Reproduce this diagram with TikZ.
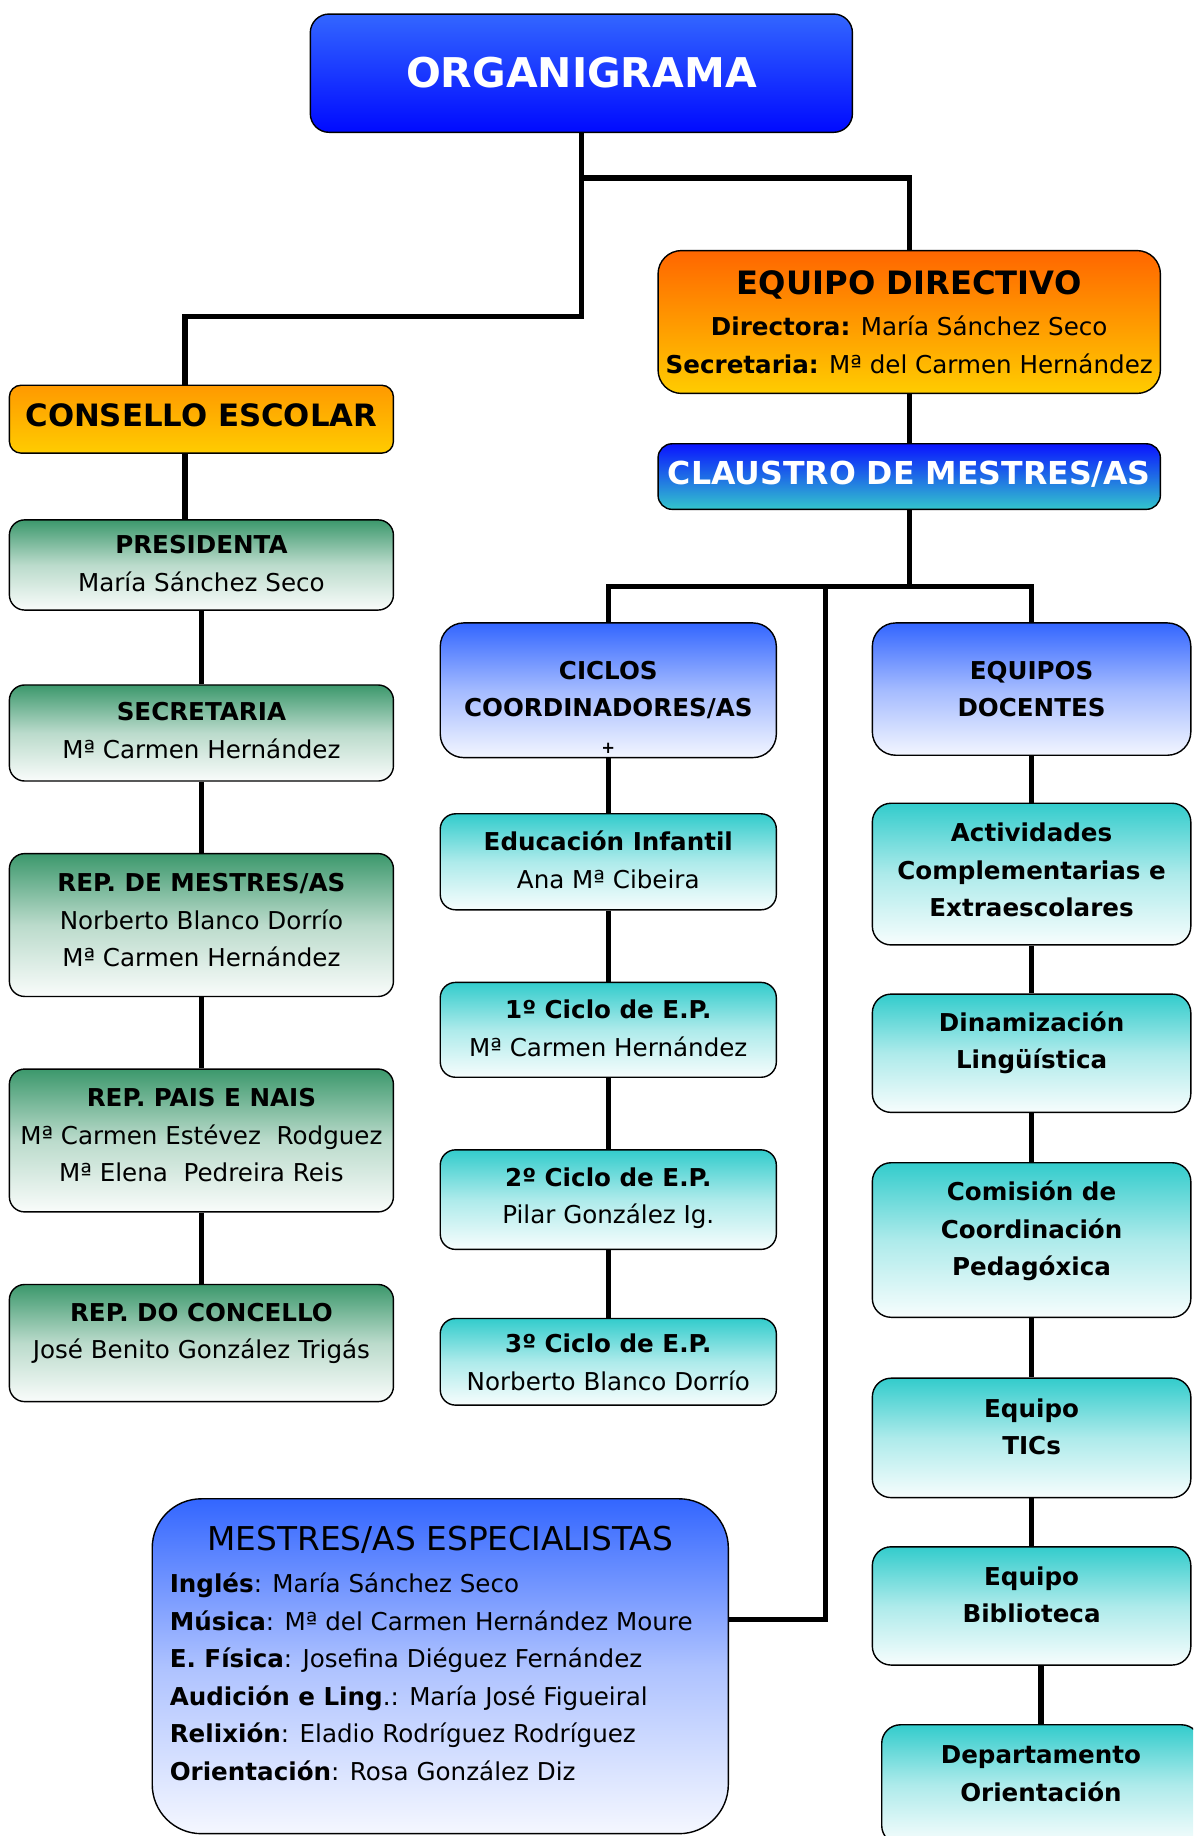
\documentclass[tikz,border=0pt]{standalone}
\usepackage{fontspec}
\setmainfont{DejaVu Sans}
\pgfdeclarelayer{back}
\pgfdeclarelayer{bg}
\pgfsetlayers{back,bg,main}
\newcommand\boxlines[2]{\raisebox{#1}[\height][\depth]{\begin{tabular}{@{}c@{}}#2\end{tabular}}}
\definecolor{bluetop}{RGB}{51,102,255}
\definecolor{bluebot}{RGB}{0,10,255}
\definecolor{orgtop}{RGB}{255,102,0}
\definecolor{yel}{RGB}{255,204,0}
\definecolor{orange2}{RGB}{255,153,0}
\definecolor{clatop}{RGB}{10,20,255}
\definecolor{clabot}{RGB}{51,198,204}
\definecolor{grn}{RGB}{60,152,108}
\definecolor{teal2}{RGB}{51,204,204}
\tikzset{
  box/.style={draw=black, line width=1.2pt, inner sep=0pt, font=\fontsize{21}{32}\selectfont},
  wh/.style 2 args={minimum width=#1pt, minimum height=#2pt},
  grnbox/.style={box, rounded corners=13pt, top color=grn, bottom color=grn!3!white, middle color=grn!35!white},
  tealbox/.style={box, rounded corners=16pt, top color=teal2, bottom color=teal2!4!white, middle color=teal2!40!white, font=\fontsize{21}{32}\selectfont\bfseries},
  lbluebox/.style={box, rounded corners=20pt, top color=bluetop, bottom color=bluetop!6!white, middle color=bluetop!45!white, font=\fontsize{21}{32}\selectfont\bfseries},
  conn/.style={line width=4.5pt},
}
\begin{document}
\begin{tikzpicture}[x=1pt,y=-1pt]
\clip (0,0) rectangle (1019,1568);
\begin{pgfonlayer}{back}
\fill[white] (0,0) rectangle (1019,1568);
\end{pgfonlayer}

% top
\node[box, wh={463}{101}, rounded corners=16pt, top color=bluetop, bottom color=bluebot, text=white, font=\fontsize{35}{42}\selectfont\bfseries] (org) at (496.5,62.5) {\boxlines{-4pt}{ORGANIGRAMA}};
\node[box, wh={429}{122}, rounded corners=20pt, top color=orgtop, bottom color=yel] (ed) at (776.5,275) {\boxlines{-4pt}{{\fontsize{27.5}{32}\selectfont\bfseries EQUIPO DIRECTIVO}\\[3pt]\textbf{Directora:} María Sánchez Seco\\\textbf{Secretaria:} Mª del Carmen Hernández}};
\node[box, wh={429}{56}, rounded corners=12pt, top color=clatop, bottom color=clabot, text=white, font=\fontsize{27}{32}\selectfont\bfseries] (cla) at (776.5,407) {\boxlines{0pt}{CLAUSTRO DE MESTRES/AS}};
\node[box, wh={328}{58}, rounded corners=10pt, top color=orange2, bottom color=yel, font=\fontsize{26.3}{32}\selectfont\bfseries] (cons) at (172,358) {\boxlines{0pt}{CONSELLO ESCOLAR}};

% left column
\node[grnbox, wh={328}{77}] (pres) at (172,482.5) {\boxlines{0pt}{\textbf{PRESIDENTA}\\María Sánchez Seco}};
\node[grnbox, wh={328}{82}] (sec) at (172,626) {\boxlines{1pt}{\textbf{SECRETARIA}\\Mª Carmen Hernández}};
\node[grnbox, wh={328}{122}] (rdm) at (172,790) {\boxlines{3pt}{\textbf{REP. DE MESTRES/AS}\\Norberto Blanco Dorrío\\Mª Carmen Hernández}};
\node[grnbox, wh={328}{122}] (rpn) at (172,974) {\boxlines{3pt}{\textbf{REP. PAIS E NAIS}\\Mª Carmen Estévez~~Rodguez\\Mª Elena~~Pedreira Reis}};
\node[grnbox, wh={328}{100}] (rdc) at (172,1147) {\boxlines{9pt}{\textbf{REP. DO CONCELLO}\\José Benito González Trigás}};

% middle column
\node[lbluebox, wh={287}{115}] (cic) at (519.5,589.5) {\boxlines{-16pt}{CICLOS\\COORDINADORES/AS\\{\fontsize{14}{16}\selectfont +}}};
\node[tealbox, rounded corners=13pt, wh={287}{82}] (ei) at (519.5,736) {\boxlines{0pt}{Educación Infantil\\\mdseries Ana Mª Cibeira}};
\node[tealbox, rounded corners=13pt, wh={287}{81}] (c1) at (519.5,879.5) {\boxlines{0pt}{1º Ciclo de E.P.\\\mdseries Mª Carmen Hernández}};
\node[tealbox, rounded corners=13pt, wh={287}{85}] (c2) at (519.5,1024.5) {\boxlines{2pt}{2º Ciclo de E.P.\\\mdseries Pilar González Ig.}};
\node[tealbox, rounded corners=13pt, wh={287}{74}] (c3) at (519.5,1163) {\boxlines{-2pt}{3º Ciclo de E.P.\\\mdseries Norberto Blanco Dorrío}};

% right column
\node[lbluebox, wh={272}{113}] (eqd) at (881,588.5) {\boxlines{-1pt}{EQUIPOS\\DOCENTES}};
\node[tealbox, wh={272}{121}] (act) at (881,746.5) {\boxlines{2pt}{Actividades\\Complementarias e\\Extraescolares}};
\node[tealbox, wh={272}{101}] (din) at (881,899.5) {\boxlines{9pt}{Dinamización\\Lingüística}};
\node[tealbox, wh={272}{132}] (com) at (881,1059) {\boxlines{8pt}{Comisión de\\Coordinación\\Pedagóxica}};
\node[tealbox, wh={272}{102}] (tic) at (881,1228) {\boxlines{8pt}{Equipo\\TICs}};
\node[tealbox, wh={272}{101}] (bib) at (881,1371.5) {\boxlines{8pt}{Equipo\\Biblioteca}};
\node[tealbox, wh={272}{102}] (dep) at (889,1524) {\boxlines{8pt}{Departamento\\Orientación}};

% specialists
\node[box, wh={492}{286}, rounded corners=42pt, top color=bluetop, bottom color=bluetop!5!white, middle color=bluetop!40!white] (esp) at (376,1423) {\raisebox{7pt}[\height][\depth]{\begin{tabular}{@{}l@{}}\makebox[462pt][c]{\fontsize{28}{32}\selectfont MESTRES/AS ESPECIALISTAS}\\[4pt]
\textbf{Inglés}: María Sánchez Seco\\
\textbf{Música}: Mª del Carmen Hernández Moure\\
\textbf{E. Física}: Josefina Diéguez Fernández\\
\textbf{Audición e Ling}.: María José Figueiral\\
\textbf{Relixión}: Eladio Rodríguez Rodríguez\\
\textbf{Orientación}: Rosa González Diz\end{tabular}}};

% connectors
\coordinate (j1) at (0,270);
\coordinate (j2) at (0,152);
\coordinate (j3) at (0,501);
\coordinate (j4) at (705,501);
\begin{pgfonlayer}{bg}
\draw[conn] (org.south) -- (org.south |- j1) -| ([xshift=-14pt]cons.north);
\draw[conn] (org.south |- j2) -| (ed.north);
\draw[conn] (ed.south) -- (cla.north);
\draw[conn] (cla.south) -- (cla.south |- j3);
\draw[conn] (cic.north) |- (eqd.north |- j3) -- (eqd.north);
\draw[conn] (j4) |- ([yshift=40pt]esp.east);
\draw[conn] ([xshift=-14pt]cons.south) -- ([xshift=-14pt]pres.north);
\draw[conn] (pres.south) -- (sec.north);
\draw[conn] (sec.south) -- (rdm.north);
\draw[conn] (rdm.south) -- (rpn.north);
\draw[conn] (rpn.south) -- (rdc.north);
\draw[conn] (cic.south) -- (ei.north);
\draw[conn] (ei.south) -- (c1.north);
\draw[conn] (c1.south) -- (c2.north);
\draw[conn] (c2.south) -- (c3.north);
\draw[conn] (eqd.south) -- (act.north);
\draw[conn] (act.south) -- (din.north);
\draw[conn] (din.south) -- (com.north);
\draw[conn] (com.south) -- (tic.north);
\draw[conn] (tic.south) -- (bib.north);
\draw[conn] ([xshift=8pt]bib.south) -- (dep.north);
\end{pgfonlayer}
\end{tikzpicture}
\end{document}
